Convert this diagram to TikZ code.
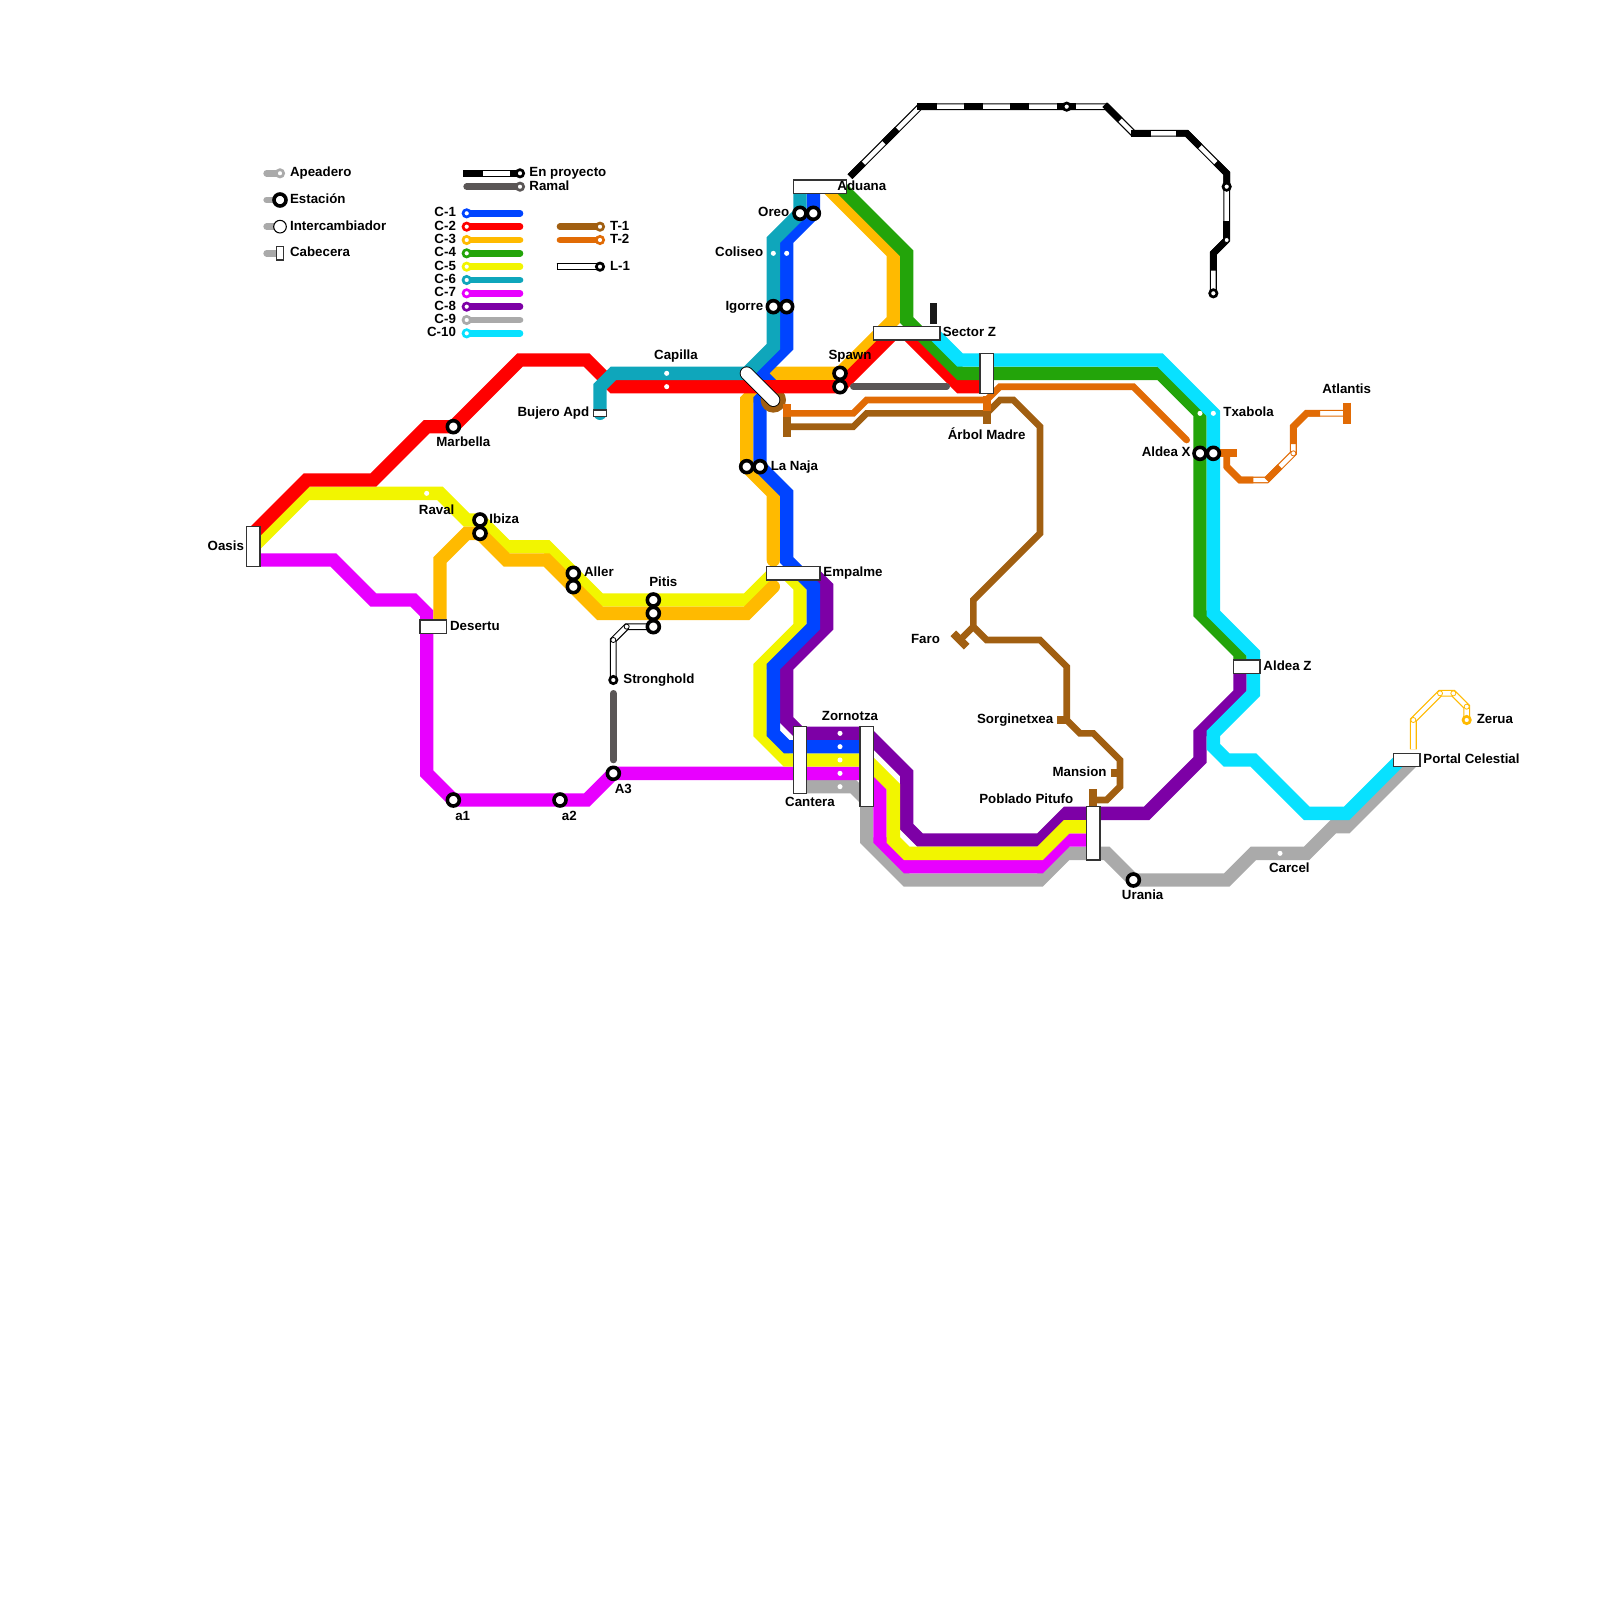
\documentclass[tikz,border=0pt]{standalone}
\usepackage{fontspec}
\setmainfont{Liberation Sans}
\definecolor{azul}{HTML}{0044FF}
\definecolor{rojo}{HTML}{FF0000}
\definecolor{naranja}{HTML}{FFBA00}
\definecolor{verde}{HTML}{23A40A}
\definecolor{amarillo}{HTML}{F2F500}
\definecolor{turquesa}{HTML}{0FA6BB}
\definecolor{magenta1}{HTML}{E800FF}
\definecolor{morado}{HTML}{7D00A6}
\definecolor{gris}{HTML}{AAAAAA}
\definecolor{cian}{HTML}{08E1FF}
\definecolor{marron}{HTML}{A15F11}
\definecolor{teja}{HTML}{E16B05}
\definecolor{ramal}{HTML}{5A5656}
\tikzset{
    linea/.style={line width=1cm,line cap=round,line join=miter},
    tranvia/.style={line width=.5cm,line cap=round,line join=miter},
    tope/.style={line width=.6cm,line cap=butt},
    hueco/.style={line width=.09cm,double=white,double distance=.33cm,line cap=butt,line join=miter},
    macizo/.style={line width=.5cm,line cap=butt,line join=miter},
    estacion/.style={circle,draw=black,fill=white,line width=.27cm,minimum size=.9cm,inner sep=0pt},
    chica/.style={circle,draw=#1,fill=white,line width=.2cm,minimum size=.55cm,inner sep=0pt},
    chica/.default=black,
    apeadero/.style={circle,fill=white,minimum size=.38cm,inner sep=0pt},
    junta/.style={circle,draw=#1,fill=white,line width=.06cm,minimum size=.38cm,inner sep=0pt},
    cabecera/.style={rectangle,draw=black!80,fill=white,line width=.1cm,inner sep=0pt},
    etq/.style={font=\fontsize{28.4}{30}\selectfont\bfseries,inner sep=0pt,text height=.75cm,text depth=.2cm,yshift=-.08cm}
}
\begin{document}
\begin{tikzpicture}[y=-1cm]
    \useasboundingbox (0,0) rectangle (120,120);
    \foreach \n/\x/\y in {marbella/34/32,ibizaa/36/39,ibizab/36/40,allera/43/43,allerb/43/44,pitisa/49/45,pitisb/49/46,pitisc/49/47,oreoa/60/16,oreob/61/16,igorrea/58/23,igorreb/59/23,spawna/63/28,spawnb/63/29,najaa/56/35,najab/57/35,aldeaa/90/34,aldeab/91/34,auno/34/60,ados/42/60,atres/46/58,urania/85/66}
        \coordinate (\n) at (\x,\y);

    \draw[linea,gris] (60,59)--(64,59)--(65,60)--(65,63)--(68,66)--(78,66)--(80,64)--(83,64)--(urania)--(92,66)--(94,64)--(98,64)--(100,62)--(101,62)--(106,57);
    \draw[linea,magenta1] (19,42)--(25,42)--(28,45)--(31,45)--(32,46)--(32,58)--(auno)--(ados)--(44,60)--(atres)--(65,58)--(66,59)--(66,63)--(68,65)--(78,65)--(80,63)--(82,63);
    \draw[linea,morado] (61,43)--(62,44)--(62,47)--(59,50)--(59,54)--(60,55)--(65,55)--(68,58)--(68,62)--(69,63)--(78,63)--(80,61)--(86,61)--(90,57)--(90,55)--(93,52)--(93,50.5);
    \draw[linea,amarillo] (19,41)--(23,37)--(33,37)--(35,39)--(ibizaa)--(38,41)--(41,41)--(allera)--(45,45)--(pitisa)--(56,45)--(58,43);
    \draw[linea,amarillo] (59,43)--(60,44)--(60,47)--(57,50)--(57,55)--(59,57)--(65,57)--(67,59)--(67,63)--(68,64)--(78,64)--(80,62)--(82,62);
    \draw[linea,naranja] (33,47)--(33,42)--(35,40)--(ibizab)--(38,42)--(41,42)--(allerb)--(45,46)--(pitisb)--(56,46)--(58,44);
    \draw[linea,naranja] (62,14)--(67,19)--(67,24)--(spawna)--(58,28)--(56,30)--(najaa)--(58,37)--(58,42);
    \draw[linea,azul] (61,14)--(oreob)--(59,18)--(igorreb)--(59,26)--(57,28)--(58,29)--(57,30)--(najab)--(59,37)--(59,42)--(61,44)--(61,47)--(58,50)--(58,55)--(59,56)--(65,56);
    \fill[marron] (58,30) circle (.95);
    \draw[linea,rojo] (19,40)--(23,36)--(28,36)--(32,32)--(marbella)--(39,27)--(44,27)--(46,29)--(spawnb)--(67,25)--(68,25)--(72,29)--(74,29);
    \draw[linea,turquesa] (60,14)--(oreoa)--(58,18)--(igorrea)--(58,26)--(56,28)--(46,28)--(45,29)--(45,31);
    \draw[linea,verde] (63,14)--(68,19)--(68,24)--(72,28)--(87,28)--(90,31)--(aldeaa)--(90,46)--(93,49)--(93,50);
    \draw[linea,cian] (105,57)--(101,61)--(98,61)--(94,57)--(92,57)--(91,56)--(91,55)--(94,52)--(94,49)--(91,46)--(aldeab)--(91,31)--(87,27)--(72,27)--(70,25);

    \draw[tranvia,ramal] (64,29)--(71,29);
    \draw[tranvia,ramal] (46,52)--(46,57);
    \draw[tranvia,marron] (59,32)--(64,32)--(65,31)--(74,31)--(75,30)--(76,30)--(78,32)--(78,40)--(73,45)--(73,47)--(74,48)--(78,48)--(80,50)--(80,54)--(81,55)--(82,55)--(84,57)--(84,59)--(83,60)--(82,60);
    \draw[tranvia,marron] (73,47)--(72,48);
    \draw[tope,marron] (59,30.3)--(59,32.75);
    \draw[tope,marron] (74,30.5)--(74,31.8);
    \draw[tope,marron] (71.5,47.5)--(72.5,48.5);
    \draw[tope,marron] (79.3,54)--(80,54);
    \draw[tope,marron] (83.3,58)--(84,58);
    \draw[tope,marron] (82,59.2)--(82,61);
    \draw[tranvia,teja] (59,31)--(64,31)--(65,30)--(74,30)--(75,29)--(85,29)--(89,33);
    \draw[tope,teja] (59,30.3)--(59,31.25);
    \draw[tope,teja] (74,29.7)--(74,30.8);

    \draw[hueco,teja] (92,35)--(93,36)--(95,36)--(97,34)--(97,32)--(98,31)--(101,31);
    \draw[macizo,teja] (92,34)--(92,35)--(93,36)--(94,36);
    \draw[macizo,teja] (95,36)--(96,35);
    \draw[macizo,teja] (97,33.3)--(97,32)--(98,31)--(99,31);
    \draw[tope,teja] (91.2,34)--(92.8,34);
    \draw[tope,teja] (101,30.2)--(101,31.8);
    \node[junta=teja] (atlantisj) at (97,34) {};

    \draw[hueco,black] (63.75,13.25)--(69,8)--(83,8)--(85,10)--(89,10)--(92,13)--(92,18)--(91,19)--(91,22);
    \foreach \a/\b in {{63.75,13.25}/{64.75,12.25},{66.3,10.7}/{67.3,9.7},{68.8,8}/{70.3,8},{72.3,8}/{73.7,8},{75.75,8}/{77.2,8},{79.3,8}/{80.7,8},{82.85,7.85}/{84,9},{84.85,10}/{86.3,10},{92,16.6}/{92,18}}
        \draw[macizo,black] (\a)--(\b);
    \draw[macizo,black] (88.2,10)--(89,10)--(90,11);
    \draw[macizo,black] (91.2,12.2)--(92,13)--(92,14);
    \draw[macizo,black] (92,18)--(91,19)--(91,20.3);
    \draw[macizo,black!90] (70,22.75)--(70,24.3);

    \draw[hueco,black] (49,47)--(47,47)--(46,48)--(46,51);
    \draw[hueco,naranja] (106,56.2)--(106,54)--(108,52)--(109,52)--(110,53)--(110,54);

    \draw[line width=.07cm,double=white,double distance=.9cm,line cap=round,black] (56,28)--(58,30);

    \foreach \n/\x/\y/\w/\h in {oasis/19/41/1/3,desertu/32.5/47/2/1,bujero/45/31/1/.5,aduana/61.5/14/4/1,sectorz/68/25/5/1,empalme/59.5/43/4/1,cantera/60/57/1/5,zornotza/65/57.5/1/6,pitufo/82/62.5/1/4,aldeaz/93.5/50/2/1,portal/105.5/57/2/1,arbol/74/28/1/3}
        \node[cabecera,minimum width=\w cm,minimum height=\h cm] (\n) at (\x,\y) {};

    \foreach \n in {marbella,ibizaa,ibizab,allera,allerb,pitisa,pitisb,pitisc,oreoa,oreob,igorrea,igorreb,spawna,spawnb,najaa,najab,aldeaa,aldeab,auno,ados,atres,urania}
        \node[estacion] (e\n) at (\n) {};

    \foreach \n/\x/\y in {ap1/58/19,ap2/59/19,ap3/50/28,ap4/50/29,ap5/32/37,ap6/63/55,ap7/63/56,ap8/63/57,ap9/63/58,ap10/63/59,ap11/96/64,ap12/90/31,ap13/91/31}
        \node[apeadero] (\n) at (\x,\y) {};

    \node[chica] (stronghold) at (46,51) {};
    \node[chica] (proy1) at (80,8) {};
    \node[chica] (proy2) at (92,14) {};
    \node[chica] (proy3) at (91,22) {};
    \node[chica=naranja] (zerua) at (110,54) {};
    \foreach \n/\x/\y in {j1/46/48,j2/47/47,j3/92/18}
        \node[junta=black] (\n) at (\x,\y) {};
    \foreach \n/\x/\y in {z1/106/54,z2/108/52,z3/109/52,z4/110/53}
        \node[junta=naranja] (\n) at (\x,\y) {};

    % leyenda
    \draw[tranvia,gris] (20,13)--(21,13);
    \node[chica=gris] (lapeadero) at (21,13) {};
    \draw[tranvia,gris] (20,15)--(21,15);
    \node[estacion] (lestacion) at (21,15) {};
    \draw[tranvia,gris] (20,17)--(21,17);
    \node[circle,draw=black,fill=white,line width=.08cm,minimum size=.95cm,inner sep=0pt] (linter) at (21,17) {};
    \draw[tranvia,gris] (20,19)--(21,19);
    \node[cabecera,minimum width=.5cm,minimum height=1cm] (lcabecera) at (21,19) {};

    \draw[hueco,black] (34.75,13)--(39,13);
    \draw[macizo,black] (34.75,13)--(36.25,13);
    \draw[macizo,black] (38.25,13)--(39,13);
    \node[chica] (lproy) at (39,13) {};
    \draw[tranvia,ramal] (35,14)--(39,14);
    \node[chica=ramal] (lramal) at (39,14) {};
    \foreach \y/\c in {16/azul,17/rojo,18/naranja,19/verde,20/amarillo,21/turquesa,22/magenta1,23/morado,24/gris,25/cian}{
        \draw[tranvia,\c] (35,\y)--(39,\y);
        \node[chica=\c] (l\c) at (35,\y) {};
    }
    \draw[tranvia,marron] (42,17)--(45,17);
    \node[chica=marron] (ltuno) at (45,17) {};
    \draw[tranvia,teja] (42,18)--(45,18);
    \node[chica=teja] (ltdos) at (45,18) {};
    \draw[hueco,black] (41.75,20)--(45,20);
    \draw[macizo,black] (41.75,20)--(41.84,20);
    \node[chica] (lluno) at (45,20) {};

    \foreach \x/\y/\a/\t [count=\i] in {21.75/12.9/west/Apeadero,21.75/14.9/west/Estación,21.75/16.9/west/Intercambiador,21.75/18.9/west/Cabecera,
        39.7/12.9/west/En proyecto,39.7/13.9/west/Ramal,
        34.2/15.9/east/C-1,34.2/16.9/east/C-2,34.2/17.9/east/C-3,34.2/18.9/east/C-4,34.2/19.9/east/C-5,34.2/20.9/east/C-6,34.2/21.9/east/C-7,34.2/22.9/east/C-8,34.2/23.9/east/C-9,34.2/24.9/east/C-10,
        45.75/16.9/west/T-1,45.75/17.9/west/T-2,45.75/19.9/west/L-1,
        62.8/13.9/west/Aduana,59.2/15.9/east/Oreo,57.25/18.9/east/Coliseo,57.25/22.9/east/Igorre,70.7/24.9/west/Sector Z,
        63.75/26.6/center/Spawn,50.7/26.6/center/Capilla,44.2/30.9/east/Bujero Apd,34.75/33.1/center/Marbella,32.75/38.2/center/Raval,
        36.7/38.9/west/Ibiza,18.3/40.9/east/Oasis,43.8/42.9/west/Aller,49.75/43.6/center/Pitis,33.75/46.9/west/Desertu,46.75/50.9/west/Stronghold,
        46.75/59.15/center/A3,34.7/61.15/center/a1,42.7/61.15/center/a2,57.8/34.9/west/La Naja,61.75/42.9/west/Empalme,74/32.6/center/Árbol Madre,
        70.5/47.9/east/Faro,79/53.9/east/Sorginetxea,83/57.9/east/Mansion,80.5/59.9/east/Poblado Pitufo,63.75/53.65/center/Zornotza,60.75/60.15/center/Cantera,
        89.3/33.9/east/Aldea X,91.75/30.9/west/Txabola,101/29.15/center/Atlantis,94.75/49.9/west/Aldea Z,110.75/53.9/west/Zerua,106.75/56.9/west/Portal Celestial,
        85.7/67.1/center/Urania,96.7/65.1/center/Carcel}
        \node[etq,anchor=\a] (t\i) at (\x,\y) {\t};
\end{tikzpicture}
\end{document}
